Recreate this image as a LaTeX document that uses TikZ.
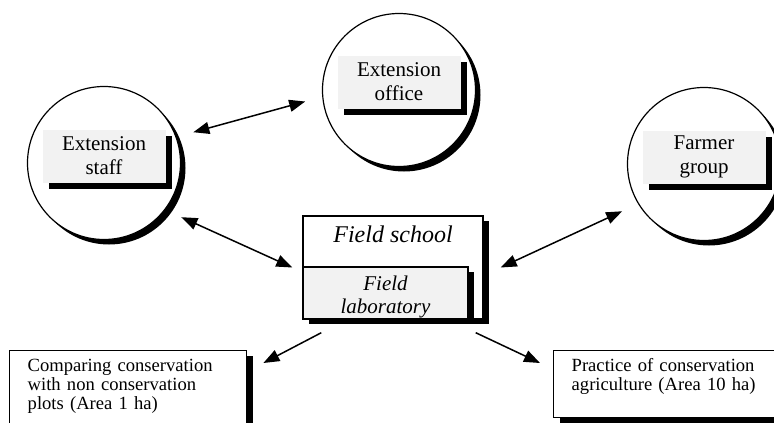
\documentclass[tikz,border=0pt]{standalone}
\usepackage{fontspec}
\setmainfont{Liberation Serif}
\usepackage{tikz}
\usetikzlibrary{arrows.meta, shadows}
\definecolor{labelGray}{HTML}{F2F2F2}

\begin{document}
\begin{tikzpicture}[x=1pt, y=-1pt,
    circ/.style={circle, draw, line width=1.2pt, fill=white, minimum size=153pt, inner sep=0pt, outer sep=18pt,
        drop shadow={shadow xshift=5pt, shadow yshift=-5pt, opacity=1, fill=black}},
    tag/.style={fill=labelGray, minimum width=123pt, minimum height=53pt, inner sep=0pt, align=center,
        font=\fontsize{21}{24}\selectfont,
        drop shadow={shadow xshift=6pt, shadow yshift=-6pt, opacity=1, fill=black}},
    box/.style={draw, line width=1.4pt, fill=white, inner sep=0pt,
        drop shadow={shadow xshift=6pt, shadow yshift=-5pt, opacity=1, fill=black}},
    note/.style={box, anchor=north west, inner xsep=18pt, text width=201pt, align=left,
        font=\fontsize{18.6}{19}\selectfont},
    conn/.style={line width=1.5pt, -{Triangle[length=16pt, width=12pt]}},
    biconn/.style={conn, {Triangle[length=16pt, width=12pt]}-{Triangle[length=16pt, width=12pt]}}]
    \useasboundingbox (0,0) rectangle (774,423);

    \node[circ] (staff) at (104,163) {};
    \node[circ] (office) at (399,90) {};
    \node[circ] (farmer) at (704,164) {};
    \node[tag] (stafftag) at ([yshift=7pt]staff.center) {Extension\\staff};
    \node[tag] (officetag) at ([yshift=8pt]office.center) {Extension\\office};
    \node[tag] (farmertag) at ([yshift=7pt]farmer.center) {Farmer\\group};

    \node[box, minimum width=180pt, minimum height=103pt, font=\fontsize{24}{27}\selectfont\itshape,
        text height=17pt, text depth=68pt] (school) at (393,267.5) {Field school};
    \node[box, fill=labelGray, anchor=south west, minimum height=52pt, text width=165pt, align=center,
        font=\fontsize{21}{23}\selectfont\itshape, text height=14pt, text depth=20pt]
        (lab) at (school.south west) {Field\\laboratory};

    \node[note, text height=20.7pt, text depth=75pt] (comp) at (9,350)
        {Comparing conservation\\with non conservation\\plots (Area 1 ha)};
    \node[note, text height=21pt, text depth=46pt] (prac) at (553,350)
        {Practice of conservation\\agriculture (Area 10 ha)};

    \draw[biconn] (staff.19) -- (office.187);
    \draw[biconn] (staff.-35) -- ([xshift=-10pt]school.west);
    \draw[biconn] ([xshift=17pt]school.east) -- (farmer.210);
    \draw[conn] ([xshift=19pt,yshift=-13pt]school.south west) -- ([xshift=16pt,yshift=-13pt]comp.north east);
    \draw[conn] ([xshift=-8pt,yshift=-13pt]school.south east) -- ([xshift=-13pt,yshift=-13pt]prac.north west);
\end{tikzpicture}
\end{document}
